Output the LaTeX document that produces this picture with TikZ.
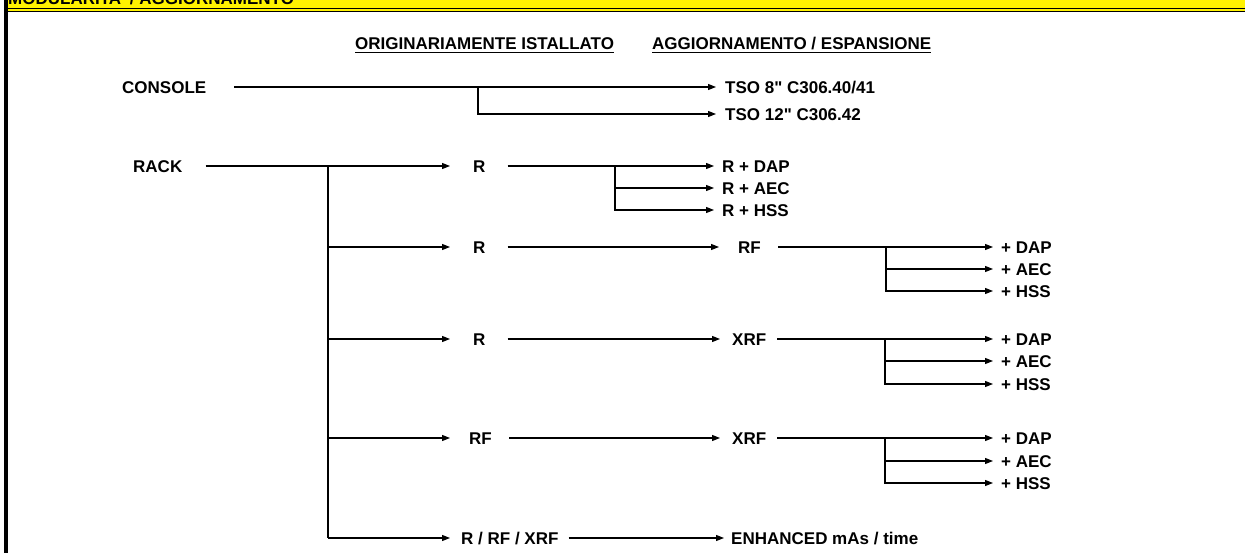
\documentclass[tikz,border=0pt]{standalone}
\usepackage{fontspec}
\setmainfont{Liberation Sans}
\usetikzlibrary{arrows.meta}
\begin{document}
\begin{tikzpicture}[x=1pt,y=-1pt,
  lbl/.style={font=\fontsize{17}{20}\selectfont\bfseries, inner sep=0pt, text height=12.2pt, text depth=0pt, anchor=west},
  ln/.style={line width=1.2pt},
  arr/.style={line width=1.2pt,-{Triangle[length=8pt,width=6pt]}},
  ul/.style={line width=1.3pt}]
\clip (0,0) rectangle (1245,553);
% header band
\fill[yellow] (7,0) rectangle (1245,12.5);
\fill[black] (7,8) rectangle (1245,9.5);
\fill[black] (7,11) rectangle (1245,12.5);
\fill[black] (4,0) rectangle (7.5,553);
\node[font=\fontsize{17}{20}\selectfont\bfseries, inner sep=0pt, anchor=base west] (title) at (8,4.5) {MODULARITA\textquotesingle{} / AGGIORNAMENTO};
% column headers
\node[lbl] (h1) at (355,43.8) {ORIGINARIAMENTE ISTALLATO};
\node[lbl] (h2) at (652,43.8) {AGGIORNAMENTO / ESPANSIONE};
\draw[ul] ([yshift=-2.5pt]h1.south west) -- ([yshift=-2.5pt]h1.south east);
\draw[ul] ([yshift=-2.5pt]h2.south west) -- ([yshift=-2.5pt]h2.south east);
% console
\node[lbl] (console) at (122,87) {CONSOLE};
\coordinate (cj) at (478,87);
\node[lbl] (tso8) at (725,87) {TSO 8\textquotedbl{} C306.40/41};
\node[lbl] (tso12) at (725,114) {TSO 12\textquotedbl{} C306.42};
\draw[arr] ([xshift=28pt]console.east) -- ([xshift=-9pt]tso8.west);
\draw[arr] (cj) |- ([xshift=-9pt]tso12.west);
% rack
\node[lbl] (rack) at (133,166) {RACK};
\coordinate (v1) at (328,166);
\coordinate (v2) at (328,247);
\coordinate (v3) at (328,339);
\coordinate (v4) at (328,438);
\coordinate (v5) at (328,538);
\draw[ln] ([xshift=23pt]rack.east) -- (v1) -- (v5);
\node[lbl] (r1) at (473,166) {R};
\node[lbl] (r2) at (473,247) {R};
\node[lbl] (r3) at (473,339) {R};
\node[lbl] (r4) at (469,438) {RF};
\node[lbl] (r5) at (461,538) {R / RF / XRF};
\draw[arr] (v1) -- ([xshift=-23pt]r1.west);
\draw[arr] (v2) -- ([xshift=-23pt]r2.west);
\draw[arr] (v3) -- ([xshift=-23pt]r3.west);
\draw[arr] (v4) -- ([xshift=-19pt]r4.west);
\draw[arr] (v5) -- ([xshift=-11pt]r5.west);
% row 1
\coordinate (b1) at (615,166);
\node[lbl] (rdap) at (722,166) {R + DAP};
\node[lbl] (raec) at (722,188) {R + AEC};
\node[lbl] (rhss) at (722,210) {R + HSS};
\draw[ln] ([xshift=22pt]r1.east) -- (b1);
\draw[arr] (b1) -- ([xshift=-8pt]rdap.west);
\draw[arr] (b1) |- ([xshift=-8pt]raec.west);
\draw[arr] (b1) |- ([xshift=-8pt]rhss.west);
% row 2
\node[lbl] (rf2) at (738,247) {RF};
\draw[arr] ([xshift=22pt]r2.east) -- ([xshift=-19pt]rf2.west);
\coordinate (b2) at (886,247);
\node[lbl] (dap2) at (1001,247) {+ DAP};
\node[lbl] (aec2) at (1001,269) {+ AEC};
\node[lbl] (hss2) at (1001,291) {+ HSS};
\draw[ln] ([xshift=17pt]rf2.east) -- (b2);
\draw[arr] (b2) -- ([xshift=-8pt]dap2.west);
\draw[arr] (b2) |- ([xshift=-8pt]aec2.west);
\draw[arr] (b2) |- ([xshift=-8pt]hss2.west);
% row 3
\node[lbl] (xrf3) at (732,339) {XRF};
\draw[arr] ([xshift=22pt]r3.east) -- ([xshift=-12pt]xrf3.west);
\coordinate (b3) at (885,339);
\node[lbl] (dap3) at (1001,339) {+ DAP};
\node[lbl] (aec3) at (1001,361) {+ AEC};
\node[lbl] (hss3) at (1001,384) {+ HSS};
\draw[ln] ([xshift=11pt]xrf3.east) -- (b3);
\draw[arr] (b3) -- ([xshift=-8pt]dap3.west);
\draw[arr] (b3) |- ([xshift=-8pt]aec3.west);
\draw[arr] (b3) |- ([xshift=-8pt]hss3.west);
% row 4
\node[lbl] (xrf4) at (732,438) {XRF};
\draw[arr] ([xshift=17pt]r4.east) -- ([xshift=-12pt]xrf4.west);
\coordinate (b4) at (885,438);
\node[lbl] (dap4) at (1001,438) {+ DAP};
\node[lbl] (aec4) at (1001,461) {+ AEC};
\node[lbl] (hss4) at (1001,483) {+ HSS};
\draw[ln] ([xshift=11pt]xrf4.east) -- (b4);
\draw[arr] (b4) -- ([xshift=-8pt]dap4.west);
\draw[arr] (b4) |- ([xshift=-8pt]aec4.west);
\draw[arr] (b4) |- ([xshift=-8pt]hss4.west);
% row 5
\node[lbl] (enh) at (731,538) {ENHANCED mAs / time};
\draw[arr] ([xshift=10pt]r5.east) -- ([xshift=-7pt]enh.west);
\end{tikzpicture}
\end{document}
